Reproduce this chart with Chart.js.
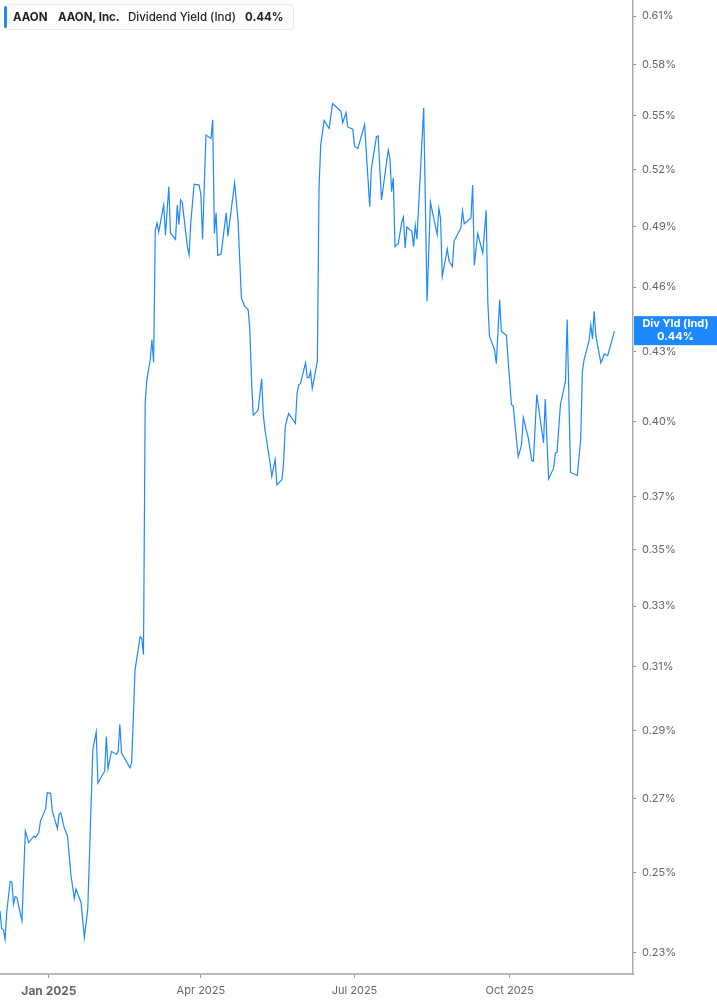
<!DOCTYPE html>
<html>
<head>
<meta charset="utf-8">
<script src="https://cdn.jsdelivr.net/npm/chart.js@4.4.1/dist/chart.umd.min.js"></script>
<style>
html,body{margin:0;padding:0;background:#fff;}
#wrap{position:relative;width:717px;height:1005px;}
#hdr{position:absolute;left:4px;top:4px;width:290px;height:26px;border:1px solid #e8e8e8;border-radius:4px;background:#fff;
  font-family:Inter,'Noto Sans',sans-serif;font-size:11.5px;color:#222;box-sizing:border-box;white-space:nowrap;}
#hdr .bar{position:absolute;left:-1px;top:1px;width:3px;height:22px;background:#1e88ff;border-radius:2px;}
#hdr span{position:absolute;top:5px;}
</style>
</head>
<body>
<div id="wrap">
<canvas id="c" width="717" height="1005"></canvas>
<div id="hdr"><div class="bar"></div>
<span style="left:8px;font-weight:700">AAON</span>
<span style="left:53px;font-weight:700">AAON, Inc.</span>
<span style="left:123px;font-weight:500">Dividend Yield (Ind)</span>
<span style="left:240px;font-weight:700">0.44%</span>
</div>
</div>
<script>
// days since 2025-01-01
const days = [-29,-28,-27,-26,-25,-23,-22,-21,-20,-19,-16,-14,-12,-9,-8,-6,-5,-2,-1,1,2,4,5,6,7,9,11,13,15,16,19,21,23,26,28,29,33,34,35,37,40,41,42,43,48,49,51,54,55,56,
57,58,60,61,62,63,64,65,68,69,71,72,75,76,77,78,79,82,83,84,86,89,90,91,93,96,97,98,99,100,102,105,106,110,112,114,116,118,119,120,121,123,124,126,127,128,131,132,134,135,138,139,140,142,146,147,148,149,152,153,154,155,156,159,160,161,163,166,168,173,174,176,177,180,181,183,187,188,190,191,194,195,197,201,202,203,204,205,207,209,210,211,212,215,216,217,218,222,224,226,230,231,232,233,236,237,239,240,244,245,246,250,251,252,254,257,259,260,261,264,265,267,268,271,272,274,275,278,280,281,284,286,287,289,293,294,296,299,300,301,303,306,307,309,313,315,316,317,320,321,322,323,324,327,329,331,335];
// dividend yield, percent
const yieldPct = [0.2403,0.2358,0.2356,0.2333,0.2400,0.2478,0.2476,0.2420,0.2439,0.2437,0.2378,0.2612,0.2580,0.2597,0.2594,0.2607,0.2639,0.2672,0.2718,0.2715,0.2666,0.2634,0.2618,0.2657,0.2661,0.2621,0.2597,0.2495,0.2434,0.2458,0.2424,0.2337,0.2408,0.2842,0.2895,0.2745,0.2779,0.2881,0.2786,0.2837,0.2828,0.2837,0.2918,0.2832,0.2789,0.2803,0.3088,0.3196,0.3192,0.3137,
0.4077,0.4178,0.4265,0.4355,0.4253,0.4880,0.4917,0.4872,0.5011,0.4856,0.5107,0.4867,0.4835,0.5011,0.4909,0.5037,0.5023,0.4798,0.4757,0.4917,0.5121,0.5116,0.5063,0.4835,0.5389,0.5370,0.5476,0.4864,0.4970,0.4754,0.4762,0.4970,0.4851,0.5128,0.4932,0.4548,0.4509,0.4494,0.4401,0.4178,0.4026,0.4040,0.4051,0.4181,0.4026,0.3964,0.3831,0.3777,0.3844,0.3744,0.3764,0.3831,0.3980,0.4033,0.3991,0.4120,0.4156,0.4160,0.4251,0.4188,0.4186,0.4214,0.4139,0.4258,0.5098,0.5333,0.5472,0.5426,0.5569,0.5524,0.5459,0.5516,0.5435,0.5422,0.5329,0.5315,0.5448,0.5296,0.5002,0.5204,0.5379,0.5385,0.5037,0.5306,0.5260,0.5081,0.5154,0.4798,0.4815,0.4923,0.4949,0.4790,0.4897,0.4875,0.4798,0.4905,0.4836,0.5543,0.4532,0.5025,0.4859,0.4993,0.4940,0.4651,0.4787,0.4728,0.4700,0.4826,0.4892,0.4981,0.4914,0.4944,0.5116,0.4705,0.4864,0.4766,0.4983,0.4525,0.4371,0.4309,0.4248,0.4540,0.4394,0.4374,0.4265,0.4070,0.4065,0.3855,0.3904,0.4016,0.3931,0.3841,0.3837,0.4113,0.3911,0.4094,0.3767,0.3811,0.3871,0.3873,0.4070,0.4171,0.4448,0.3793,0.3781,0.3924,0.4210,0.4265,0.4352,0.4424,0.4358,0.4486,0.4371,0.4251,0.4291,0.4283,0.4394];
const xTickDays = [0, 90, 181, 273];
const xTickLabels = ['Jan 2025', 'Apr 2025', 'Jul 2025', 'Oct 2025'];
const yTicks = [0.23,0.25,0.27,0.29,0.31,0.33,0.35,0.37,0.40,0.43,0.46,0.49,0.52,0.55,0.58,0.61];
const seriesLabel = 'Div Yld (Ind)';

const FONT = "Inter, 'Noto Sans', sans-serif";
const BLUE = '#1e88ff';

const lastLabel = {
  id: 'lastLabel',
  afterDraw(chart) {
    const last = yieldPct[yieldPct.length - 1];
    const y = chart.scales.y.getPixelForValue(last);
    const ctx = chart.ctx;
    const left = chart.chartArea.right + 1;
    const w = chart.width - left;
    ctx.save();
    ctx.fillStyle = BLUE;
    ctx.fillRect(left, y - 15, w, 29);
    ctx.fillStyle = '#fff';
    ctx.font = 'bold 11px ' + FONT;
    ctx.textAlign = 'center';
    ctx.textBaseline = 'middle';
    ctx.fillText(seriesLabel, left + w / 2, y - 7);
    ctx.fillText(last.toFixed(2) + '%', left + w / 2, y + 6);
    ctx.restore();
  }
};

new Chart(document.getElementById('c'), {
  type: 'line',
  data: {
    datasets: [{
      data: days.map((d, i) => ({ x: d, y: yieldPct[i] })),
      borderColor: BLUE,
      borderWidth: 1.2,
      pointRadius: 0,
      tension: 0,
      fill: false
    }]
  },
  options: {
    responsive: false,
    animation: false,
    devicePixelRatio: 1,
    layout: { padding: 0 },
    plugins: { legend: { display: false }, tooltip: { enabled: false } },
    scales: {
      x: {
        type: 'linear',
        min: -29,
        max: 346,
        afterBuildTicks: s => { s.ticks = xTickDays.map(v => ({ value: v })); },
        afterFit: s => { s.height = 31; s.paddingLeft = 0; s.paddingRight = 0; },
        ticks: {
          autoSkip: false,
          maxRotation: 0,
          padding: 6,
          color: '#666',
          callback: v => xTickLabels[xTickDays.indexOf(v)],
          font: ctx => ctx.index === 0 ? { family: FONT, size: 12, weight: 'bold' } : { family: FONT, size: 11 }
        },
        grid: { drawOnChartArea: false, drawTicks: true, tickLength: 4, color: '#999' },
        border: { display: true, color: '#bbb', width: 2 }
      },
      y: {
        type: 'logarithmic',
        position: 'right',
        min: 0.225,
        max: 0.6203,
        afterBuildTicks: s => { s.ticks = yTicks.map(v => ({ value: v })); },
        afterFit: s => { s.width = 84; s.paddingTop = 0; s.paddingBottom = 0; },
        ticks: {
          autoSkip: false,
          padding: 6,
          color: '#666',
          font: { family: FONT, size: 11 },
          callback: v => Number(v).toFixed(2) + '%'
        },
        grid: { drawOnChartArea: false, drawTicks: true, tickLength: 3, color: '#888' },
        border: { display: true, color: '#aaa', width: 1.5 }
      }
    }
  },
  plugins: [lastLabel]
});
</script>
</body>
</html>
